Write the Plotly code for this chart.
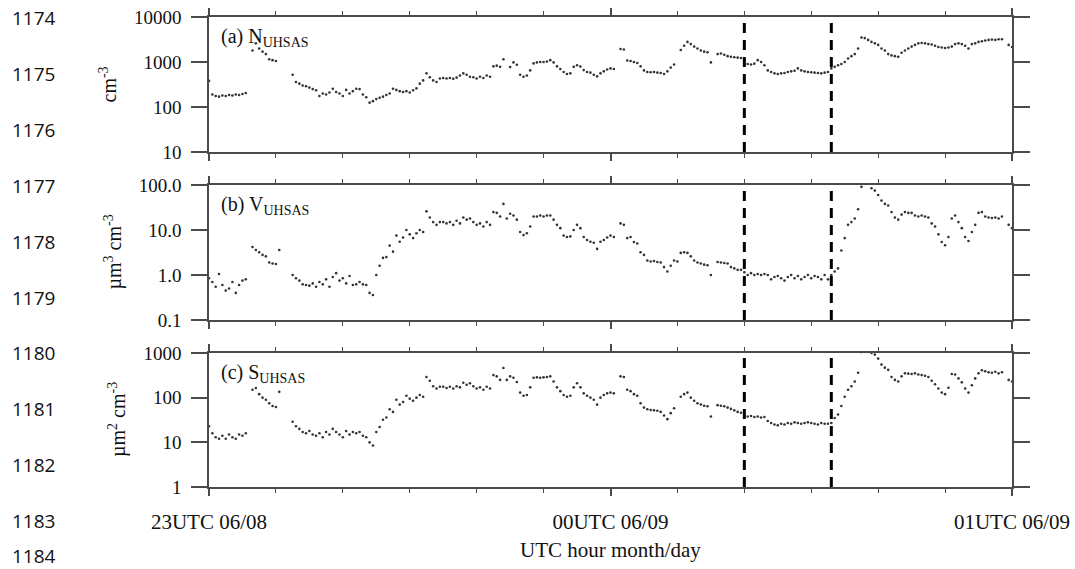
import plotly.graph_objects as go

# time in minutes after 23 UTC 06/08, every 0.5 min
minutes = [i * 0.5 for i in range(241)]
N = None

# (a) N_UHSAS  [cm^-3]
n_uhsas = [
    380, 190, 175, 170, 180, 175, 185, 180, 190, 185,
    195, 205, N, 1800, 2600, 2000, 1700, 1500, 1150, 1100,
    1050, N, N, N, N, 520, 360, 330, 300, 290,
    270, 250, 235, 175, 200, 190, 210, 255, 215, 200,
    175, 240, 200, 225, 255, 250, 190, 165, 125, 135,
    150, 160, 170, 185, 200, 255, 240, 225, 215, 225,
    210, 235, 260, 330, 390, 560, 460, 390, 360, 430,
    440, 430, 440, 425, 450, 500, 560, 520, 470, 460,
    430, 470, 440, 500, 470, 800, 830, 780, 1150, N,
    770, 980, 870, 520, 470, 500, 650, 930, 980, 1000,
    1000, 1020, 1100, 980, 800, 700, 600, 540, 560, 780,
    850, 790, 660, 600, 580, 520, 480, 560, 620, 680,
    720, 700, N, 1950, 1900, 1080, 1050, 1000, 950, 800,
    650, 600, 590, 600, 580, 570, 540, 620, 750, 880,
    N, 1850, 2300, 2800, 2500, 2200, 2000, 1800, 1700, 1650,
    980, N, 1500, 1550, 1450, 1350, 1300, 1280, 1250, 1230,
    1100, 900, 880, 920, 1100, 1000, 850, 650, 600, 560,
    540, 560, 570, 600, 620, 640, 720, 650, 620, 600,
    590, 580, 570, 560, 580, 600, 720, 780, 850, 900,
    1000, 1200, 1350, 1500, 2000, 3500, 3400, 3100, 2800, 2600,
    2400, 2000, 1800, 1500, 1400, 1350, 1300, 1600, 1800, 2000,
    2200, 2400, 2600, 2650, 2600, 2500, 2450, 2300, 2150, 2100,
    2050, 2100, 2200, 2500, 2600, 2500, 2300, 2000, 2500, 2600,
    2800, 2900, 3000, 3100, 3150, 3100, 3200, 3200, N, 2400,
    2150,
]

# (b) V_UHSAS  [um^3 cm^-3]
v_uhsas = [
    0.85, 0.7, 0.55, 1.05, 0.6, 0.45, 0.5, 0.7, 0.4, 0.6,
    0.75, 0.8, N, 4.2, 3.6, 3.2, 2.8, 2.6, 1.9, 1.8,
    1.75, 3.6, N, N, N, 1.0, 0.85, 0.75, 0.62, 0.6,
    0.58, 0.65, 0.55, 0.7, 0.62, 0.8, 0.55, 0.9, 1.1, 0.75,
    0.85, 0.65, 0.95, 0.6, 0.62, 0.7, 0.62, 0.6, 0.4, 0.36,
    1.0, 1.6, 2.4, 2.5, 4.5, 3.3, 7.5, 5.5, 6.8, 10,
    8, 6.6, 8.5, 10, 9, 26, 19, 15, 13, 15,
    15, 14, 15, 13, 16, 14, 19, 17, 18, 15,
    13, 14, 12, 15, 13, 25, 24, 20, 38, 18,
    23, 21, 17, 9, 7.7, 8.5, 12, 20, 20, 21,
    20, 21, 21, 17, 13, 11, 7.5, 7, 7.2, 10,
    13, 11, 7, 6, 5.5, 5.2, 3.8, 5.5, 6, 6.8,
    7.5, 7, N, 14, 13, 6.6, 7, 5.4, 5, 3.2,
    2.8, 2.1, 2.0, 2.05, 1.95, 1.9, 1.5, 1.2, 1.6, 2.1,
    2.0, 3.1, 3.2, 3.1, 2.6, 2.1, 1.9, 1.8, 1.7, 1.65,
    1.0, N, 1.95, 1.9, 1.85, 1.8, 1.5, 1.4, 1.3, 1.3,
    1.15, 1.0, 1.1, 1.0, 1.05, 1.0, 1.05, 1.0, 0.8, 0.9,
    0.95, 0.85, 0.75, 0.9, 1.0, 0.85, 0.95, 0.8, 0.9, 1.0,
    0.85, 0.95, 0.9, 0.8, 1.0, 0.8, 1.0, 1.2, 1.4, 3.5,
    6.6, 13, 15, 18, 29, 91, 125, 110, 85, 75,
    60, 45, 38, 35, 25, 19, 17, 22, 25, 24,
    24, 21, 20, 21, 20, 19, 14, 12, 8, 5.4,
    4.6, 7, 18, 21, 15, 11, 7, 5.7, 9, 13,
    24, 25, 20, 19, 18.5, 19, 18, 20, N, 13,
    11,
]

# (c) S_UHSAS  [um^2 cm^-3]
s_uhsas = [
    23, 16, 13, 12, 14, 12, 15, 13, 12, 15,
    14, 16, N, 150, 165, 120, 100, 90, 75, 65,
    62, 135, N, N, N, 29, 23, 20, 17, 16,
    18, 15, 14, 16, 13, 17, 15, 20, 17, 15,
    13, 18, 15, 17, 16, 17, 14, 13, 10, 8.5,
    17, 22, 32, 36, 55, 48, 90, 70, 80, 110,
    95, 85, 100, 115, 105, 290, 240, 180, 160, 175,
    175, 165, 175, 160, 180, 170, 215, 195, 210, 180,
    160, 170, 150, 175, 160, 320, 300, 250, 460, 250,
    300, 280, 225, 130, 110, 115, 170, 280, 285, 280,
    285, 290, 300, 230, 170, 140, 115, 105, 110, 170,
    210, 170, 125, 110, 100, 90, 70, 100, 115, 125,
    130, 125, N, 300, 290, 150, 140, 120, 110, 75,
    60, 55, 53, 52, 51, 48, 40, 33, 45, 58,
    N, 105, 120, 130, 100, 85, 75, 70, 66, 64,
    38, N, 68, 66, 64, 60, 56, 52, 48, 46,
    42, 38, 39, 37, 38, 36, 37, 30, 27, 25,
    24, 26, 25, 27, 26, 28, 27, 26, 27, 28,
    27, 26, 25, 27, 26, 26, 27, 35, 42, 65,
    105, 150, 180, 230, 360, 1050, 1450, 1300, 1000, 920,
    750, 550, 470, 420, 290, 250, 230, 300, 350, 345,
    340, 350, 330, 320, 310, 290, 240, 200, 160, 130,
    120, 167, 340, 330, 270, 220, 160, 130, 190, 270,
    350, 410, 390, 370, 360, 380, 350, 370, N, 250,
    230,
]

panel_labels = ["(a) N<sub>UHSAS</sub>", "(b) V<sub>UHSAS</sub>", "(c) S<sub>UHSAS</sub>"]
y_titles = ["cm<sup>-3</sup>", "µm<sup>3</sup> cm<sup>-3</sup>", "µm<sup>2</sup> cm<sup>-3</sup>"]
y_ranges = [[1, 4], [-1, 2], [0, 3]]
y_tickvals = [[10, 100, 1000, 10000], [0.1, 1, 10, 100], [1, 10, 100, 1000]]
y_ticktext = [["10", "100", "1000", "10000"], ["0.1", "1.0", "10.0", "100.0"], ["1", "10", "100", "1000"]]
x_tickvals = [0, 60, 120]
x_ticktext = ["23UTC 06/08", "00UTC 06/09", "01UTC 06/09"]
event_lines = [80, 93]
line_numbers = ["1174", "1175", "1176", "1177", "1178", "1179", "1180", "1181", "1182", "1183", "1184"]

SERIF = "Liberation Serif"
AX = "#4a4a4a"
W, H = 1075, 569
L, R, T, B = 209, 63, 17, 82
plot_h = H - T - B  # 470

# panel pixel extents (top, bottom)
panels_px = [(17, 152), (185, 320), (353, 487)]


def py(ypix):
    return (H - B - ypix) / plot_h


fig = go.Figure()
series = [n_uhsas, v_uhsas, s_uhsas]
for i, vals in enumerate(series):
    sfx = "" if i == 0 else str(i + 1)
    fig.add_trace(go.Scatter(
        x=minutes, y=vals, mode="markers",
        marker=dict(size=2.6, color="#333333"),
        xaxis="x" + sfx, yaxis="y" + sfx, showlegend=False, hoverinfo="skip",
    ))

layout = dict(
    width=W, height=H,
    margin=dict(l=L, r=R, t=T, b=B, autoexpand=False),
    paper_bgcolor="white", plot_bgcolor="white",
    font=dict(family=SERIF, color="#111"),
    showlegend=False,
)
annotations = []
shapes = []
for i in range(3):
    sfx = "" if i == 0 else str(i + 1)
    top, bot = panels_px[i]
    xa = dict(
        domain=[0, 1], anchor="y" + sfx, range=[0, 120], automargin=False,
        showline=True, linecolor=AX, linewidth=1.5, mirror="ticks",
        ticks="outside", ticklen=7, tickwidth=1.5, tickcolor=AX,
        tickvals=x_tickvals, ticktext=x_ticktext,
        showticklabels=(i == 2), tickfont=dict(family=SERIF, size=21, color="#111"),
        showgrid=False, zeroline=False,
        minor=dict(ticks="outside", ticklen=4, tickwidth=1.2, tickcolor=AX, dtick=10, tick0=0, showgrid=False),
    )
    if i == 2:
        xa["ticklabelstandoff"] = 8
    else:
        xa["matches"] = "x3"
    ya = dict(
        domain=[py(bot), py(top)], anchor="x" + sfx, type="log", range=y_ranges[i],
        automargin=False,
        showline=True, linecolor=AX, linewidth=1.5, mirror="ticks",
        ticks="outside", ticklen=16, tickwidth=1.5, tickcolor=AX,
        tickvals=y_tickvals[i], ticktext=y_ticktext[i],
        tickfont=dict(family=SERIF, size=19, color="#111"),
        ticklabelstandoff=6,
        showgrid=False, zeroline=False,
    )
    layout["xaxis" + sfx] = xa
    layout["yaxis" + sfx] = ya

    annotations.append(dict(
        xref="x" + sfx + " domain", yref="y" + sfx + " domain", x=0.012, y=0.85,
        xanchor="left", yanchor="middle", showarrow=False,
        text=panel_labels[i], font=dict(family=SERIF, size=20, color="#111"),
    ))
    ytx = [108, 113, 117][i]
    annotations.append(dict(
        xref="paper", yref="paper", x=(ytx - L) / (W - L - R), y=py((top + bot) / 2),
        xanchor="center", yanchor="middle", showarrow=False, textangle=-90,
        text=y_titles[i], font=dict(family=SERIF, size=20, color="#111"),
    ))
    for xe in event_lines:
        shapes.append(dict(
            type="line", xref="x" + sfx, yref="y" + sfx + " domain",
            x0=xe, x1=xe, y0=0, y1=1,
            line=dict(color="black", width=3, dash="10px,7px"),
        ))

annotations.append(dict(
    xref="paper", yref="paper", x=0.5, y=py(550), xanchor="center", yanchor="middle",
    showarrow=False, text="UTC hour month/day", font=dict(family=SERIF, size=21, color="#111"),
))
for k, txt in enumerate(line_numbers):
    yc = min(18 + k * 55.9, 556)
    annotations.append(dict(
        xref="paper", yref="paper", x=(10 - L) / (W - L - R), y=py(yc),
        xanchor="left", yanchor="middle", showarrow=False,
        text=txt, font=dict(family="Open Sans", size=19, color="#111"),
    ))

layout["annotations"] = annotations
layout["shapes"] = shapes
fig.update_layout(**layout)
fig.write_html("out.html")
